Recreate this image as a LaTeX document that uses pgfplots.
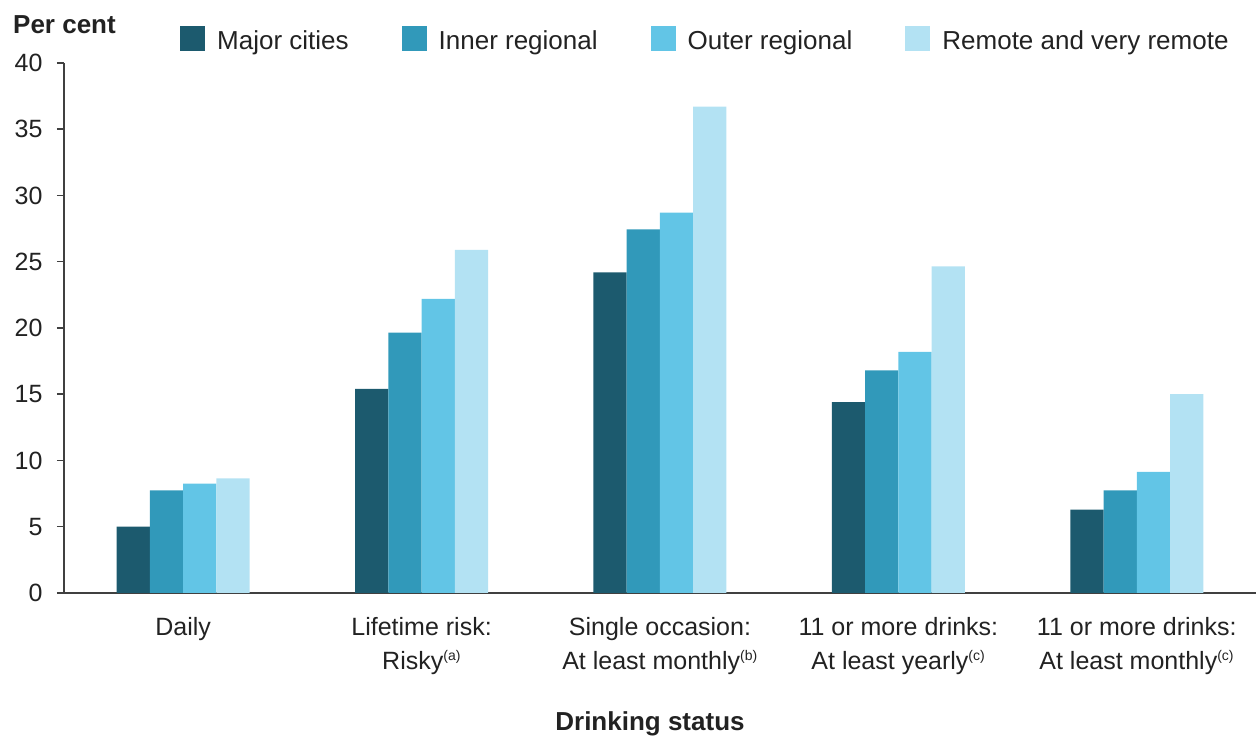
\documentclass[border=0pt]{standalone}
\usepackage{fontspec}
\setmainfont{Liberation Sans}
\usepackage{pgfplots}
\pgfplotsset{compat=1.18}
\definecolor{cMajor}{HTML}{1C5A6E}
\definecolor{cInner}{HTML}{3199BA}
\definecolor{cOuter}{HTML}{62C5E6}
\definecolor{cRemote}{HTML}{B3E2F3}
\definecolor{axisgray}{HTML}{404040}
\definecolor{txt}{HTML}{222222}
\newcommand{\sups}[1]{\textsuperscript{\fontsize{14bp}{14bp}\selectfont #1}}
\begin{document}
\begin{tikzpicture}
\useasboundingbox (0,0) rectangle (1257bp,737bp);
\begin{axis}[
  at={(64bp,144bp)}, anchor=south west,
  scale only axis, width=1192bp, height=530bp,
  xmin=-0.5, xmax=4.5, ymin=0, ymax=40,
  ytick={0,5,...,40},
  xtick={0,1,2,3,4},
  xticklabels={Daily,
    {Lifetime risk:\\Risky\sups{(a)}},
    {Single occasion:\\At least monthly\sups{(b)}},
    {11 or more drinks:\\At least yearly\sups{(c)}},
    {11 or more drinks:\\At least monthly\sups{(c)}}},
  ybar=0pt, bar width=33.25bp,
  axis x line*=bottom, axis y line*=left,
  axis line style={draw=axisgray, line width=1.5bp, -},
  tick align=outside, major tick length=7bp,
  ytick style={draw=axisgray, line width=1.5bp},
  xtick style={draw=none},
  tick label style={font=\fontsize{25bp}{34bp}\selectfont, text=txt},
  /pgf/number format/assume math mode=true,
  xticklabel style={align=center, anchor=north, yshift=-14bp},
  yticklabel style={xshift=-11bp},
  xlabel={\bfseries Drinking status},
  xlabel style={font=\fontsize{26bp}{30bp}\selectfont, text=txt, at={(axis description cs:0.5,0)}, anchor=base, yshift=-137.5bp, xshift=-10bp, inner sep=0pt},
  ylabel={\bfseries Per cent},
  ylabel style={font=\fontsize{26bp}{30bp}\selectfont, text=txt, rotate=-90, at={(axis description cs:0,1)}, anchor=base west, xshift=-51bp, yshift=29.5bp, inner sep=0pt},
  legend columns=4,
  legend style={draw=none, fill=none, inner sep=0pt, at={(axis description cs:0.0973,1.0459)}, anchor=west,
    font=\fontsize{26bp}{30bp}\selectfont, text=txt, nodes={inner sep=0pt},
    /tikz/every odd column/.style={column sep=12bp},
    /tikz/every even column/.style={column sep=53bp}},
  legend image code/.code={\draw[#1, draw=none] (0bp,-10bp) rectangle (25bp,15bp);},
]
\addplot[fill=cMajor, draw=none] coordinates {(0,5.0) (1,15.4) (2,24.2) (3,14.4) (4,6.3)};
\addplot[fill=cInner, draw=none] coordinates {(0,7.75) (1,19.65) (2,27.45) (3,16.8) (4,7.75)};
\addplot[fill=cOuter, draw=none] coordinates {(0,8.25) (1,22.2) (2,28.7) (3,18.2) (4,9.15)};
\addplot[fill=cRemote, draw=none] coordinates {(0,8.65) (1,25.9) (2,36.7) (3,24.65) (4,15.0)};
\legend{Major cities, Inner regional, Outer regional, Remote and very remote}
\end{axis}
\end{tikzpicture}
\end{document}
